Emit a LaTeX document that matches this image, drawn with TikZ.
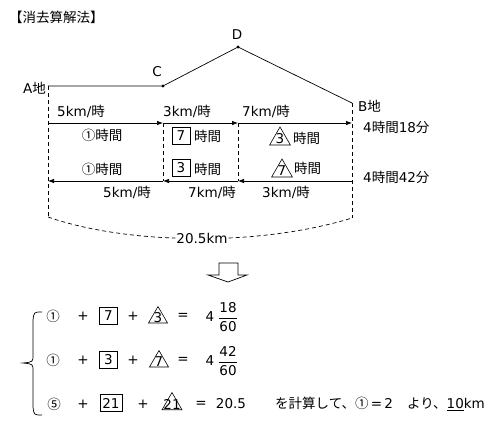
\documentclass[tikz,border=0pt]{standalone}
\usepackage{fontspec}
\setmainfont{DejaVu Sans}
\newfontfamily\jpfont{Noto Sans CJK JP}
\newcommand\jpt[1]{{\jpfont #1}}
\usetikzlibrary{arrows.meta,shapes.geometric}
\begin{document}
\begin{tikzpicture}[x=1pt,y=-1pt,
  txt/.style={font=\fontsize{13.5}{16}\selectfont, inner sep=0pt},
  ln/.style={line width=0.7pt},
  arr/.style={line width=0.7pt,-{Latex[length=6pt,width=4.5pt]}},
  dsh/.style={line width=0.7pt,dash pattern=on 4pt off 3pt},
  box/.style={draw,line width=0.7pt,minimum width=18pt,minimum height=17pt,inner sep=1pt,font=\fontsize{13.5}{16}\selectfont},
  tri/.style={draw,line width=0.6pt,regular polygon,regular polygon sides=3,minimum size=24pt,inner sep=0pt}]
\useasboundingbox (0,0) rectangle (502,423);

% title and place labels
\node[txt,anchor=west] (title) at (9,17) {\jpt{【消去算解法】}};
\node[txt,anchor=east] (Alab) at (46,88) {A\jpt{地}};
\node[txt] (Clab) at (157,72) {C};
\node[txt] (Dlab) at (237,35) {D};
\node[txt,anchor=west] (Blab) at (358,106) {B\jpt{地}};

% route
\coordinate (A) at (48,86);
\coordinate (C) at (163,86);
\coordinate (D) at (238,47);
\coordinate (B) at (352,103);
\draw[ln] (A) -- (C) -- (D) -- (B);
\fill (C) circle (1.7);
\fill (D) circle (1.7);

% arrow rows
\coordinate (t0) at (48,123);
\coordinate (t1) at (163,123);
\coordinate (t2) at (238,123);
\coordinate (t3) at (352,123);
\coordinate (b0) at (48,181);
\coordinate (b1) at (163,181);
\coordinate (b2) at (238,181);
\coordinate (b3) at (352,181);
\coordinate (L) at (48,217);
\coordinate (R) at (352,218);

\draw[dsh] (A) -- (L);
\draw[dsh] (B) -- (R);
\draw[dsh] (t1) -- (b1);
\draw[dsh] (t2) -- (b2);

\draw[arr] (t0) -- (t1);
\draw[arr] (t1) -- (t2);
\draw[arr] (t2) -- (t3);
\draw[arr] (b3) -- (b2);
\draw[arr] (b2) -- (b1);
\draw[arr] (b1) -- (b0);

% speed labels
\node[txt,anchor=west] (s1) at (57,111) {5km/\jpt{時}};
\node[txt,anchor=west] (s2) at (163,111) {3km/\jpt{時}};
\node[txt,anchor=west] (s3) at (242,111) {7km/\jpt{時}};
\node[txt] (u1) at (127,192) {5km/\jpt{時}};
\node[txt] (u2) at (212,192) {7km/\jpt{時}};
\node[txt] (u3) at (286,192) {3km/\jpt{時}};

% time labels
\node[txt] (h1) at (102,135) {\jpt{①時間}};
\node[txt] (h2) at (102,169) {\jpt{①時間}};
\node[box] (bx1) at (181,135.5) {7};
\node[txt,anchor=west] (bx1t) at (194,136) {\jpt{時間}};
\node[box] (bx2) at (181,168) {3};
\node[txt,anchor=west] (bx2t) at (194,169) {\jpt{時間}};
\node[tri,label={[txt]center:3}] (tr1) at (280,139) {};
\node[txt,anchor=west] (tr1t) at (293,138) {\jpt{時間}};
\node[tri,label={[txt]center:7}] (tr2) at (282,171) {};
\node[txt,anchor=west] (tr2t) at (294,168) {\jpt{時間}};

\node[txt,anchor=west] (r1) at (363,127) {4\jpt{時間}18\jpt{分}};
\node[txt,anchor=west] (r2) at (363,177) {4\jpt{時間}42\jpt{分}};

% total distance
\node[txt,inner sep=1pt] (km) at (202,238) {20.5km};
\draw[dsh] (L) .. controls (85,230) and (135,237) .. (km.west);
\draw[dsh] (km.east) .. controls (275,236) and (320,228) .. (R);

% down arrow
\draw[line width=0.7pt] (219,263) -- (238,263) -- (238,275) -- (247,275) -- (228,282) -- (208,275) -- (219,275) -- cycle;

% brace
\draw[line width=0.7pt] (42,312) .. controls (34,312) .. (33,320) -- (33,355)
  .. controls (33,362) .. (23,363) .. controls (33,364) .. (33,371) -- (33,407)
  .. controls (34,415) .. (42,415);

% equation row 1
\node[txt] (e11) at (53,316) {\jpt{①}};
\node[txt] (e12) at (83,316) {+};
\node[box] (e13) at (108.5,315.5) {7};
\node[txt] (e14) at (133,316) {+};
\node[tri,minimum size=22pt,label={[txt]center:3}] (e15) at (158,317.5) {};
\node[txt] (e16) at (183,316) {=};
\node[txt] (e17) at (210,317) {4};
\node[txt] (e18) at (228,318) {\renewcommand\arraystretch{1.15}\begin{tabular}{@{}c@{}}18\\\hline 60\end{tabular}};

% equation row 2
\node[txt] (e21) at (53,360) {\jpt{①}};
\node[txt] (e22) at (83,360) {+};
\node[box] (e23) at (108.5,359.5) {3};
\node[txt] (e24) at (133,360) {+};
\node[tri,minimum size=22pt,label={[txt]center:7}] (e25) at (159,361.5) {};
\node[txt] (e26) at (183,360) {=};
\node[txt] (e27) at (210,361) {4};
\node[txt] (e28) at (228,362) {\renewcommand\arraystretch{1.15}\begin{tabular}{@{}c@{}}42\\\hline 60\end{tabular}};

% equation row 3
\node[txt] (e31) at (54,404) {\jpt{⑤}};
\node[txt] (e32) at (83,404) {+};
\node[box,minimum width=22pt] (e33) at (111,403) {21};
\node[txt] (e34) at (143,404) {+};
\node[tri,minimum size=23pt,label={[txt]center:21}] (e35) at (172,404) {};
\node[txt] (e36) at (201,404) {=};
\node[txt] (e37) at (231,404) {20.5};
\node[txt,anchor=west] (e38) at (275,404) {\jpt{を計算して、①}\,=\,2\hspace{14pt}\jpt{より、}\underline{10}km};
\end{tikzpicture}
\end{document}
